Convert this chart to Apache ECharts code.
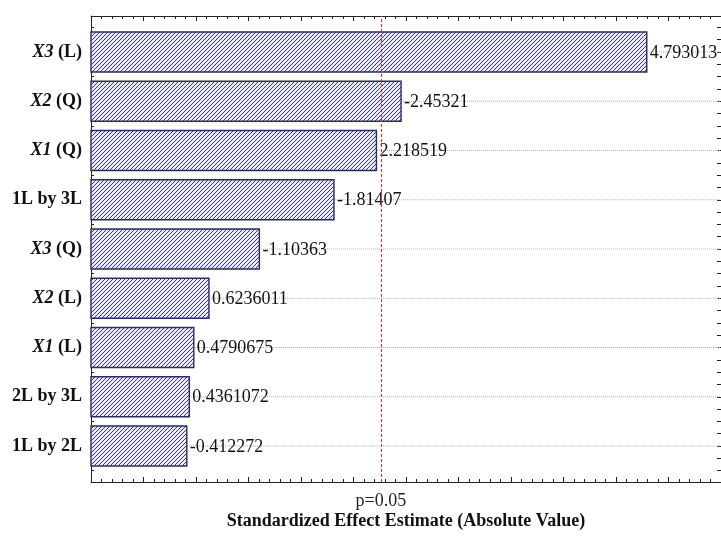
<!DOCTYPE html>
<html>
<head>
<meta charset="utf-8">
<script src="https://cdn.jsdelivr.net/npm/echarts@6/dist/echarts.min.js"></script>
<style>
html,body{margin:0;padding:0;background:#fff;}
#chart{width:721px;height:538px;}
</style>
</head>
<body>
<div id="chart"></div>
<script>
// ---- data ----
const categories = ['X3 (L)', 'X2 (Q)', 'X1 (Q)', '1L by 3L', 'X3 (Q)', 'X2 (L)', 'X1 (L)', '2L by 3L', '1L by 2L'];
const effects = [4.793013, -2.45321, 2.218519, -1.81407, -1.10363, 0.6236011, 0.4790675, 0.4361072, -0.412272];
const pThreshold = 2.262;
const pLabel = 'p=0.05';
const xTitle = 'Standardized Effect Estimate (Absolute Value)';
const xMin = -0.5, xMax = 5.5;

// hatch pattern
const tile = document.createElement('canvas');
tile.width = 4; tile.height = 4;
const tc = tile.getContext('2d');
tc.fillStyle = '#e9e9ef';
tc.fillRect(0, 0, 4, 4);
tc.strokeStyle = '#3a3d78';
tc.lineWidth = 1.0;
tc.beginPath();
tc.moveTo(0, 4); tc.lineTo(4, 0);
tc.moveTo(-1, 1); tc.lineTo(1, -1);
tc.moveTo(3, 5); tc.lineTo(5, 3);
tc.stroke();
const hatch = { image: tile, repeat: 'repeat' };

const serif = '"Liberation Serif", "Times New Roman", serif';
const barData = effects.map((v, i) => [Math.abs(v), i]);

const chart = echarts.init(document.getElementById('chart'), null, { renderer: 'canvas' });

const band = 49.25;
const gridATop = 16, gridABottom = 482;
const gridBTop = 52 - band / 2;
const lineCol = '#222';
const option = {
  animation: false,
  backgroundColor: '#fff',
  grid: [
    { left: 91, top: gridATop, width: 631, height: gridABottom - gridATop },
    { left: 91, top: gridBTop, width: 631, height: band * categories.length }
  ],
  xAxis: [
    {
      gridIndex: 0, type: 'value', position: 'bottom', min: xMin, max: xMax, interval: 0.5,
      axisLine: { show: true, onZero: false, lineStyle: { color: lineCol, width: 1 } },
      axisTick: { show: true, inside: true, length: 5, lineStyle: { color: lineCol } },
      minorTick: { show: true, splitNumber: 5, length: 3, lineStyle: { color: lineCol } },
      axisLabel: { show: false },
      splitLine: { show: false },
      name: xTitle, nameLocation: 'middle', nameGap: 30,
      nameTextStyle: { fontFamily: serif, fontSize: 18, fontWeight: 'bold', color: '#111' }
    },
    {
      gridIndex: 0, type: 'value', position: 'top', min: xMin, max: xMax, interval: 0.5,
      axisLine: { show: true, onZero: false, lineStyle: { color: lineCol, width: 1 } },
      axisTick: { show: true, inside: true, length: 5, lineStyle: { color: lineCol } },
      minorTick: { show: true, splitNumber: 5, length: 3, lineStyle: { color: lineCol } },
      axisLabel: { show: false },
      splitLine: { show: false }
    },
    {
      gridIndex: 1, type: 'value', min: xMin, max: xMax, show: false,
      axisLine: { onZero: false }
    }
  ],
  yAxis: [
    {
      gridIndex: 0, type: 'value', position: 'left', min: 0, max: 1,
      axisLine: { show: true, onZero: false, lineStyle: { color: lineCol, width: 1 } },
      axisTick: { show: false }, axisLabel: { show: false }, splitLine: { show: false }
    },
    {
      gridIndex: 0, type: 'value', position: 'right', min: 0, max: 1,
      axisLine: { show: true, onZero: false, lineStyle: { color: lineCol, width: 1 } },
      axisTick: { show: false }, axisLabel: { show: false }, splitLine: { show: false }
    },
    {
      gridIndex: 1, type: 'value', position: 'left', inverse: true, min: -0.5, max: categories.length - 0.5, interval: 0.5,
      axisLine: { show: false, onZero: false },
      axisTick: { show: true, inside: true, length: 3, lineStyle: { color: lineCol } },
      splitLine: { show: false },
      axisLabel: {
        show: true, margin: 9,
        formatter: function (val) {
          const i = Math.round(val);
          if (Math.abs(val - i) > 1e-6 || i < 0 || i >= categories.length) return '';
          const name = categories[i];
          const m = name.match(/^(X\d)(.*)$/);
          if (m) return '{it|' + m[1] + '}{b|' + m[2] + '}';
          return '{b|' + name + '}';
        },
        rich: {
          it: { fontFamily: serif, fontSize: 18, fontWeight: 'bold', fontStyle: 'italic', color: '#111' },
          b: { fontFamily: serif, fontSize: 18, fontWeight: 'bold', color: '#111' }
        }
      }
    },
    {
      gridIndex: 1, type: 'value', position: 'right', inverse: true, min: -0.5, max: categories.length - 0.5, interval: 0.25,
      axisLine: { show: false, onZero: false },
      axisTick: { show: true, inside: true, length: 4, lineStyle: { color: lineCol } },
      axisLabel: { show: false }, splitLine: { show: false }
    }
  ],
  series: [
    {
      type: 'custom',
      xAxisIndex: 2, yAxisIndex: 2,
      data: barData,
      encode: { x: 0, y: 1 },
      renderItem: function (params, api) {
        const cs = params.coordSys;
        const end = api.coord([api.value(0), api.value(1)]);
        const start = api.coord([xMin, api.value(1)]);
        const h = api.size([0, 0.812])[1];
        const y = end[1];
        return {
          type: 'group',
          children: [
            {
              type: 'line',
              shape: { x1: cs.x, y1: y, x2: cs.x + cs.width, y2: y },
              style: { stroke: '#b4b4b4', lineWidth: 1, lineDash: [1, 1] }
            },
            {
              type: 'rect',
              shape: { x: start[0], y: y - h / 2, width: end[0] - start[0], height: h },
              style: { fill: hatch, stroke: '#2a2c63', lineWidth: 1.4 }
            },
            {
              type: 'text',
              style: {
                text: String(effects[params.dataIndex]),
                x: end[0] + 3, y: y + 1,
                align: 'left', verticalAlign: 'middle',
                fontFamily: serif, fontSize: 18, fill: '#111'
              }
            }
          ]
        };
      }
    },
    {
      type: 'line',
      xAxisIndex: 0, yAxisIndex: 0,
      data: [[pThreshold, 0.5]],
      symbol: 'none',
      lineStyle: { opacity: 0 },
      markLine: {
        silent: true,
        symbol: 'none',
        data: [{ xAxis: pThreshold }],
        lineStyle: { type: [3, 2], color: '#a04a5c', width: 1.2 },
        label: {
          show: true, position: 'start', distance: 10, formatter: pLabel,
          fontFamily: serif, fontSize: 18, color: '#222'
        }
      }
    }
  ]
};
chart.setOption(option);
</script>
</body>
</html>
